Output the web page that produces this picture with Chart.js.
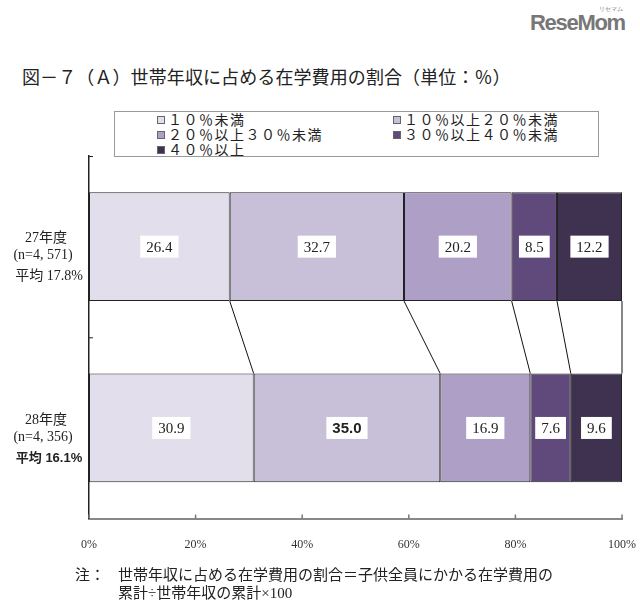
<!DOCTYPE html>
<html>
<head>
<meta charset="utf-8">
<script src="https://cdn.jsdelivr.net/npm/chart.js@4.4.1/dist/chart.umd.min.js"></script>
<style>
  body { margin: 0; background: #fff; }
  #wrap { position: relative; width: 640px; height: 614px; overflow: hidden;
          font-family: "Liberation Serif", "Noto Sans CJK JP", serif; color: #222; }
  #c { position: absolute; left: 0; top: 0; }
  .title { position: absolute; left: 22px; top: 63px; font-size: 18px; letter-spacing: 0.1px; white-space: nowrap; }
  .logo { position: absolute; left: 530px; top: 10px; font-family: "Liberation Sans", sans-serif;
          font-weight: bold; font-size: 22px; color: #777; letter-spacing: -1.3px; }
  .logo small { position: absolute; right: 2px; top: -5px; font-size: 6px; font-weight: normal; letter-spacing: 0; }
  #legend { position: absolute; left: 114px; top: 111px; width: 485px; height: 46px;
            border: 1px solid #999; box-sizing: border-box; }
  .li { position: absolute; font-size: 14px; line-height: 15px; white-space: nowrap; letter-spacing: 1.5px; }
  .li i { display: inline-block; width: 6px; height: 6px; border: 1px solid #666; margin-right: 3px;
          vertical-align: 1px; }
  .note { position: absolute; top: 566px; font-size: 15px; line-height: 18px; white-space: nowrap; }
</style>
</head>
<body>
<div id="wrap">
  <div class="title">図－７（Ａ）世帯年収に占める在学費用の割合（単位：％）</div>
  <div class="logo"><small>リセマム</small>ReseMom</div>
  <div id="legend"></div>
  <canvas id="c" width="640" height="614"></canvas>
  <div class="note" style="left:75px">注：</div>
  <div class="note" style="left:118px">世帯年収に占める在学費用の割合＝子供全員にかかる在学費用の<br>累計÷世帯年収の累計×100</div>
</div>
<script>
const years = ['27年度', '28年度'];
const samples = ['(n=4, 571)', '(n=4, 356)'];
const averages = ['平均 17.8%', '平均 16.1%'];

const bands = ['１０％未満', '１０％以上２０％未満', '２０％以上３０％未満', '３０％以上４０％未満', '４０％以上'];
const under10 = [26.4, 30.9];
const from10to20 = [32.7, 35.0];
const from20to30 = [20.2, 16.9];
const from30to40 = [8.5, 7.6];
const over40 = [12.2, 9.6];
const xTicks = [0, 20, 40, 60, 80, 100];

const colors = ['#e3deeb', '#c8bfd9', '#ae9fc6', '#604a7c', '#3f3250'];
const series = [under10, from10to20, from20to30, from30to40, over40];

const serif = '"Liberation Serif", "Noto Sans CJK JP", serif';

// white boxed value labels, connectors between bars, y labels, inner ticks
const extras = {
  id: 'extras',
  afterDatasetsDraw(chart) {
    const ctx = chart.ctx;
    const metas = chart.data.datasets.map((d, i) => chart.getDatasetMeta(i));
    ctx.save();
    // connector lines
    ctx.strokeStyle = '#111';
    ctx.lineWidth = 1;
    metas.forEach(m => {
      const a = m.data[0], b = m.data[1];
      ctx.beginPath();
      ctx.moveTo(a.x, a.y + a.height / 2);
      ctx.lineTo(b.x, b.y - b.height / 2);
      ctx.stroke();
    });
    // value labels
    metas.forEach((m, di) => {
      m.data.forEach((el, i) => {
        const v = chart.data.datasets[di].data[i];
        const bold = di === 1 && i === 1;
        ctx.font = bold ? 'bold 15px "Liberation Sans", sans-serif' : '15px ' + serif;
        const txt = v.toFixed(1);
        const w = ctx.measureText(txt).width + 12;
        const cx = (el.x + el.base) / 2;
        ctx.fillStyle = '#fff';
        ctx.fillRect(cx - w / 2, el.y - 11, w, 22);
        ctx.fillStyle = '#222';
        ctx.textAlign = 'center';
        ctx.textBaseline = 'middle';
        ctx.fillText(txt, cx, el.y + 1);
      });
    });
    // y category labels
    const y = chart.scales.y;
    ctx.fillStyle = '#222';
    ctx.textAlign = 'center';
    years.forEach((yr, i) => {
      const cy = y.getPixelForValue(i);
      ctx.font = '14px ' + serif;
      ctx.fillText(yr, 46, cy - 8);
      ctx.fillText(samples[i], 43, cy + 9);
      ctx.font = i === 1 ? 'bold 13px "Liberation Sans", "Noto Sans CJK JP", sans-serif' : '14px ' + serif;
      ctx.fillText(averages[i], 49, cy + 30);
    });
    // inner tick marks
    const x = chart.scales.x, area = chart.chartArea;
    ctx.strokeStyle = '#777';
    ctx.lineWidth = 1.5;
    x.ticks.forEach(t => {
      const px = x.getPixelForValue(t.value);
      ctx.beginPath();
      ctx.moveTo(px, area.bottom);
      ctx.lineTo(px, area.bottom - 4);
      ctx.stroke();
    });
    ctx.strokeStyle = '#222';
    ctx.lineWidth = 1;
    const ys = [area.top, (y.getPixelForValue(0) + y.getPixelForValue(1)) / 2];
    ys.forEach(py => {
      ctx.beginPath();
      ctx.moveTo(area.left, py + 0.5);
      ctx.lineTo(area.left + 4, py + 0.5);
      ctx.stroke();
    });
    ctx.restore();
  }
};

const chart = new Chart(document.getElementById('c'), {
  type: 'bar',
  data: {
    labels: years,
    datasets: series.map((d, i) => ({
      label: bands[i],
      data: d,
      backgroundColor: colors[i],
      borderColor: '#222',
      borderWidth: 1,
      borderSkipped: false,
      barPercentage: 0.6,
      categoryPercentage: 1.0
    }))
  },
  options: {
    indexAxis: 'y',
    responsive: false,
    animation: false,
    devicePixelRatio: 1,
    layout: { padding: { left: 89, top: 156, right: 18, bottom: 43 } },
    plugins: { legend: { display: false }, tooltip: { enabled: false } },
    scales: {
      x: {
        stacked: true,
        min: 0, max: 100,
        afterBuildTicks: s => { s.ticks = xTicks.map(v => ({ value: v })); },
        afterFit: s => { s.paddingLeft = 0; s.paddingRight = 0; },
        grid: { display: false, drawTicks: false },
        border: { color: '#888', width: 2 },
        ticks: { padding: 19, color: '#333', font: { family: serif, size: 12 }, callback: v => v + '%' }
      },
      y: {
        stacked: true,
        grid: { display: false, drawTicks: false },
        border: { color: '#222', width: 1.5 },
        ticks: { display: false }
      }
    }
  },
  plugins: [extras]
});

// legend built from the chart datasets
const leg = document.getElementById('legend');
const pos = [[42, 3], [278, 3], [42, 18], [278, 18], [42, 33]];
chart.data.datasets.forEach((ds, i) => {
  const d = document.createElement('div');
  d.className = 'li';
  d.style.left = pos[i][0] + 'px';
  d.style.top = (pos[i][1] - 2) + 'px';
  d.innerHTML = '<i style="background:' + ds.backgroundColor + '"></i>' + ds.label;
  leg.appendChild(d);
});
</script>
</body>
</html>
